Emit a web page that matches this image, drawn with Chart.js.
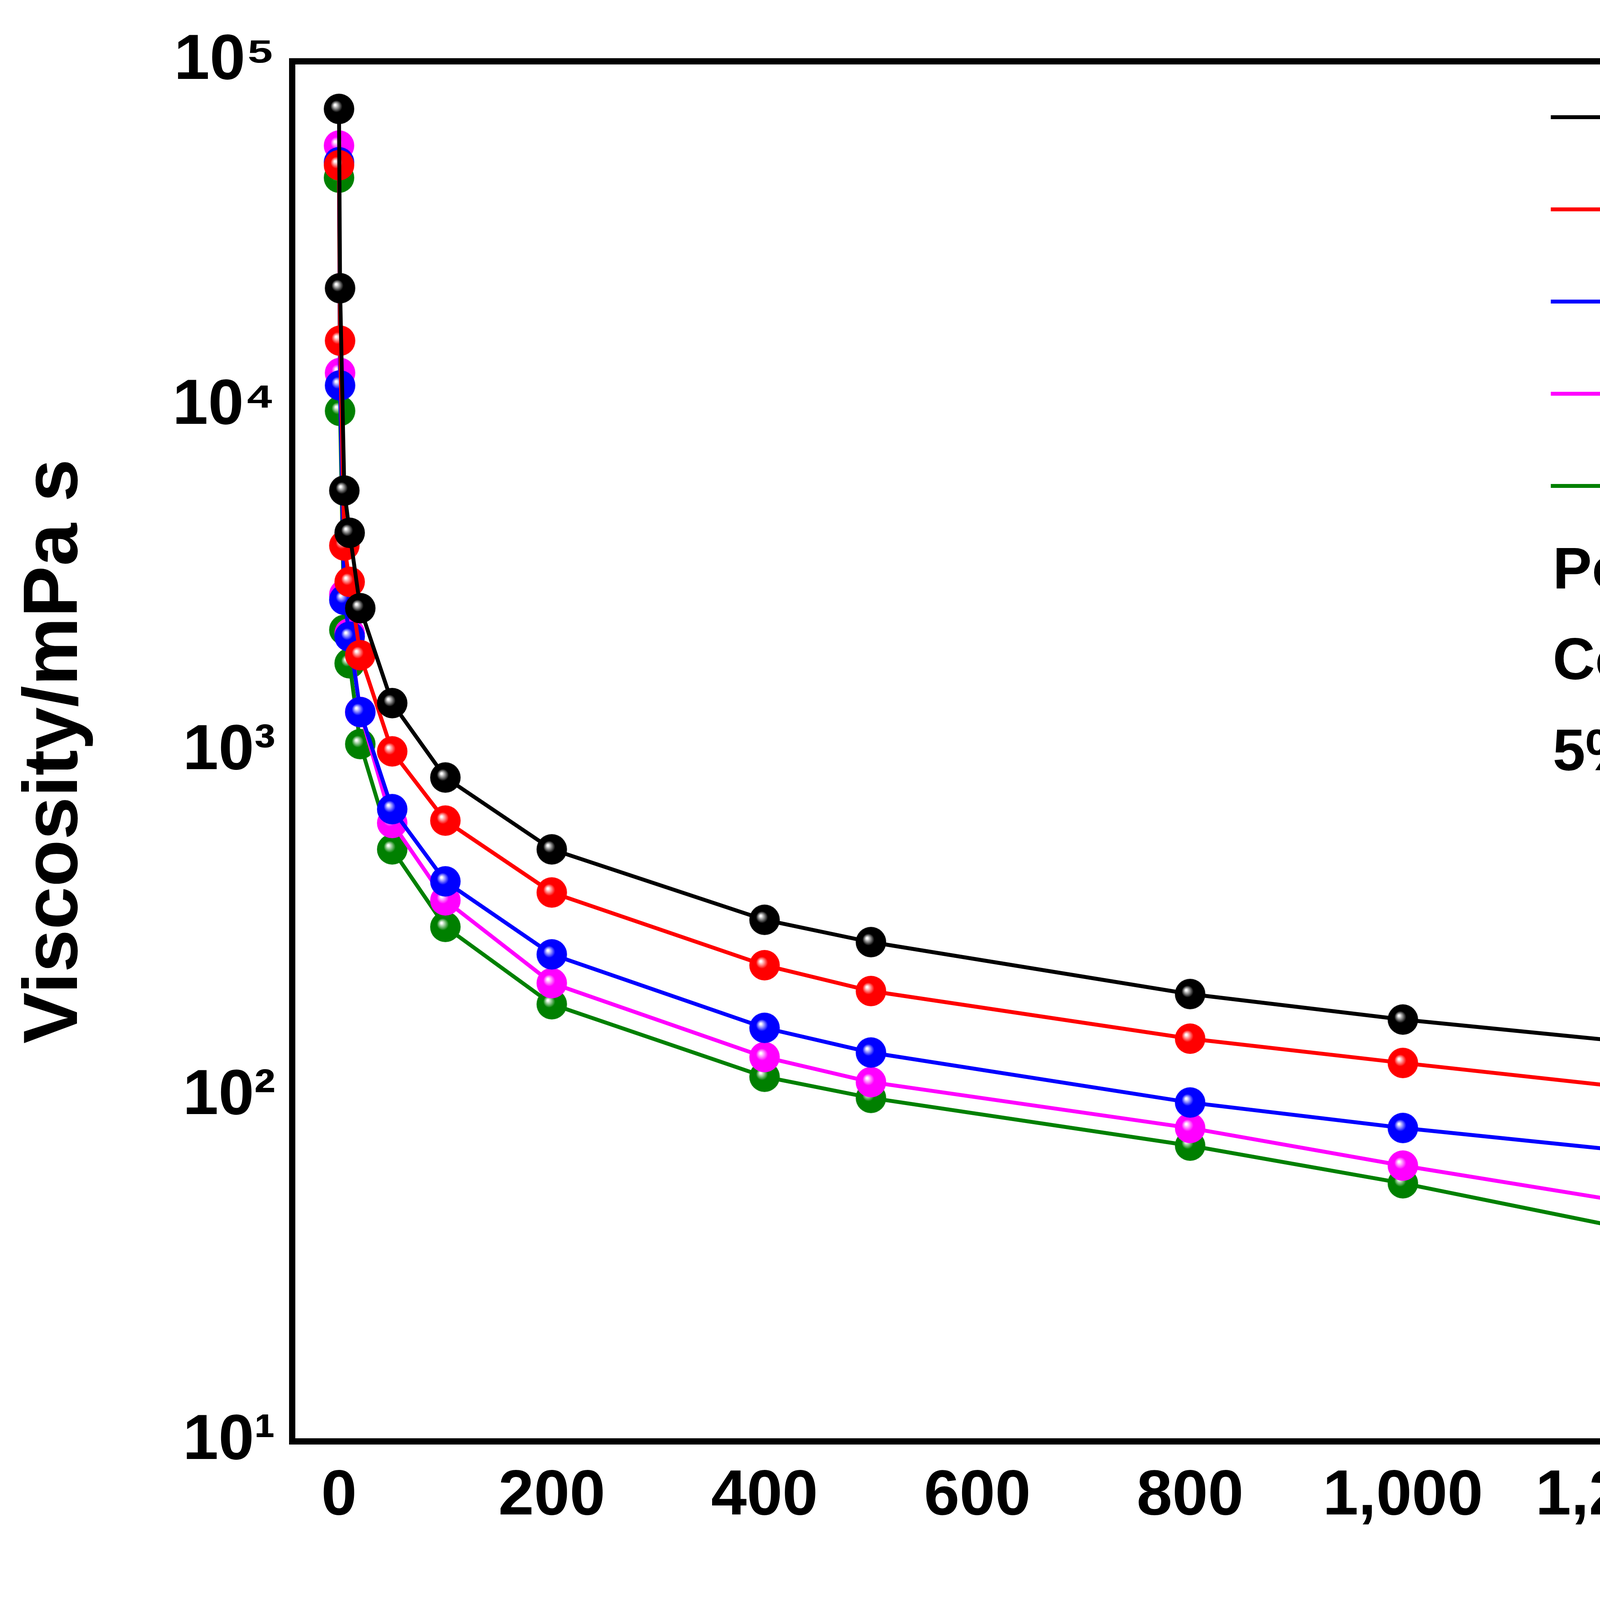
<!DOCTYPE html>
<html>
<head>
<meta charset="utf-8">
<script src="https://cdn.jsdelivr.net/npm/chart.js@4/dist/chart.umd.min.js"></script>
<style>
  html, body { margin: 0; padding: 0; background: #fff; overflow: hidden; }
  #chart { width: 5142px; height: 4318px; display: block; }
</style>
</head>
<body>
<canvas id="chart" width="5142" height="4318"></canvas>
<script>
const shearRates = [0, 1, 5, 10, 20, 50, 100, 200, 400, 500, 800, 1000, 1200, 1500];
const an105  = [72800, 22000, 5700, 4300, 2600, 1380, 840, 520, 325, 280, 198, 167, 145, 117];
const an125  = [50000, 15500, 3950, 3100, 1900, 1000, 630, 390, 240, 202, 147, 125, 107, 88];
const sav55  = [51000, 11500, 2750, 2150, 1300, 680, 420, 258, 158, 134, 96, 81, 70, 59];
const sav28  = [57000, 12500, 2850, 2200, 1300, 620, 370, 213, 130, 110, 81, 63, 50, 33];
const sav10  = [46000, 9700, 2250, 1800, 1050, 520, 310, 185, 114, 99, 72, 56, 42, 27];
const xTicks = [0, 200, 400, 600, 800, 1000, 1200, 1400];
const seriesNames = ["AN-105", "AN-125", "SAV-55", "SAV-28", "SAV-10"];
const seriesColors = ["#000000", "#ff0000", "#0000ff", "#ff00ff", "#008000"];
const notes = ["Polymer 3%", "Co (II) 0.5%", "5% NaCl"];
const supers = { 1: "¹", 2: "²", 3: "³", 4: "⁴", 5: "⁵" };

const R = 40;
function ball(color) {
  const c = document.createElement("canvas");
  c.width = c.height = R * 2;
  const g = c.getContext("2d");
  const grad = g.createRadialGradient(R * 0.75, R * 0.75, 2, R, R, R);
  grad.addColorStop(0, "#ffffff");
  grad.addColorStop(0.35, color);
  grad.addColorStop(1, color);
  g.fillStyle = grad;
  g.beginPath(); g.arc(R, R, R - 1, 0, Math.PI * 2); g.fill();
  return c;
}
const balls = seriesColors.map(ball);

const allValues = [an105, an125, sav55, sav28, sav10];
const datasets = allValues.map((vals, i) => ({
  label: seriesNames[i],
  data: shearRates.map((x, j) => ({ x: x, y: vals[j] })),
  borderColor: seriesColors[i],
  borderWidth: 10,
  pointStyle: balls[i],
  pointRadius: R,
  tension: 0
}));
const font = "'Liberation Sans', Arial, sans-serif";

const framePlugin = {
  id: "frame",
  afterDraw(chart) {
    const { ctx, chartArea: a } = chart;
    ctx.save();
    ctx.strokeStyle = "#000";
    ctx.lineWidth = 16;
    ctx.strokeRect(a.left, a.top, a.right - a.left, a.bottom - a.top);
    ctx.font = "bold 150px " + font;
    ctx.textBaseline = "middle";
    const lx = 3970, ly = 300, step = 236;
    seriesNames.forEach((n, i) => {
      const y = ly + i * step;
      ctx.strokeStyle = seriesColors[i];
      ctx.lineWidth = 10;
      ctx.beginPath(); ctx.moveTo(lx, y); ctx.lineTo(lx + 420, y); ctx.stroke();
      ctx.drawImage(balls[i], lx + 210 - R, y - R);
      ctx.fillStyle = "#000";
      ctx.fillText(n, lx + 460, y);
    });
    notes.forEach((t, i) => {
      ctx.fillText(t, 3975, 1465 + i * 233);
    });
    ctx.restore();
  }
};

new Chart(document.getElementById("chart"), {
  type: "line",
  data: { datasets: datasets },
  plugins: [framePlugin],
  options: {
    responsive: false,
    devicePixelRatio: 1,
    animation: false,
    layout: { padding: { top: 157, right: 16, left: 20, bottom: 0 } },
    plugins: { legend: { display: false }, tooltip: { enabled: false } },
    scales: {
      x: {
        type: "linear",
        min: -44, max: 1551,
        afterBuildTicks(s) { s.ticks = xTicks.map(v => ({ value: v })); },
        grid: { display: false, drawOnChartArea: false, tickLength: 40, tickWidth: 12, color: "#000" },
        border: { display: false },
        ticks: {
          color: "#000", maxRotation: 0, autoSkip: false,
          font: { family: font, size: 164, weight: "bold" }
        },
        title: { display: true, text: "Shear rate/s⁻¹", color: "#000",
                 font: { family: font, size: 197, weight: "bold" }, padding: { top: 30 } },
        afterFit(s) { s.height = 628; }
      },
      y: {
        type: "logarithmic",
        min: 10, max: 100000,
        grid: { display: false, drawOnChartArea: false, tickLength: 40, tickWidth: 10, color: "#000" },
        border: { display: false },
        ticks: {
          color: "#000",
          autoSkip: false,
          font: { family: font, size: 164, weight: "bold" },
          callback: v => {
            const e = Math.log10(v);
            return Math.abs(e - Math.round(e)) < 1e-9 ? "10" + supers[Math.round(e)] : "";
          }
        },
        title: { display: true, text: "Viscosity/mPa s", color: "#000",
                 font: { family: font, size: 197, weight: "bold" }, padding: { bottom: 30 } },
        afterFit(s) { s.width = 728; }
      }
    }
  }
});
</script>
</body>
</html>
